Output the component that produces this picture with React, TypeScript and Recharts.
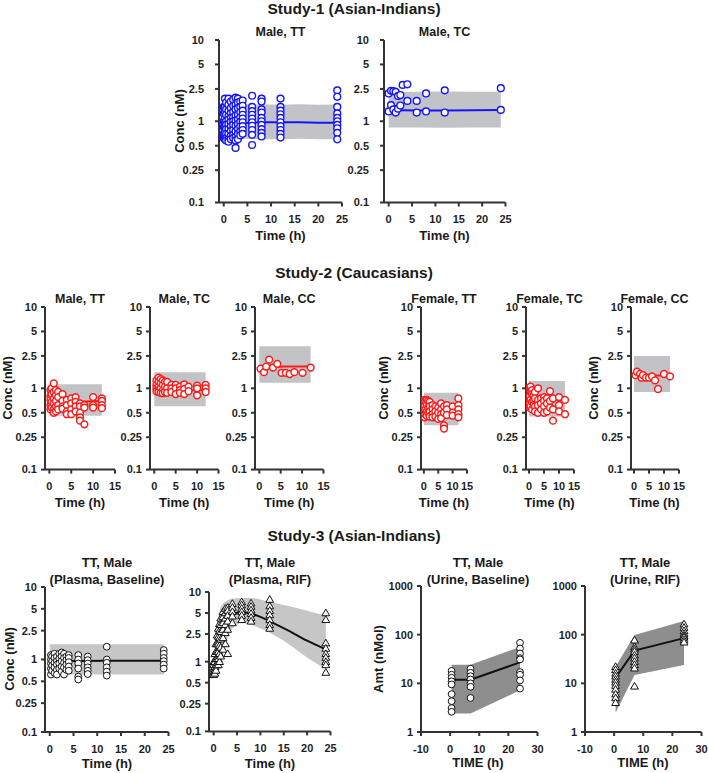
import React from 'react';
import { ComposedChart, Area, Line, Scatter, XAxis, YAxis } from 'recharts';

// [time, lower, median, upper]
type Band = [number, number, number, number][];
// [time, observed values at that time]
type Obs = [number, number[]][];

const CONC_TICKS = [0.1, 0.25, 0.5, 1, 2.5, 5, 10];
const AMT_TICKS = [1, 10, 100, 1000];
const TIME_TICKS_24 = [0, 5, 10, 15, 20, 25];
const TIME_TICKS_12 = [0, 5, 10, 15];
const URINE_TIME_TICKS = [-10, 0, 10, 20, 30];

// ---- Study-1 (Asian-Indians) ----
const s1MaleTTBand: Band = [
  [0, 0.6, 0.96, 1.62], [4, 0.61, 0.95, 1.6], [8, 0.6, 0.97, 1.62],
  [12, 0.6, 0.97, 1.6], [16, 0.61, 0.97, 1.62], [20, 0.6, 0.96, 1.6], [24, 0.6, 0.96, 1.61],
];
const s1MaleTTObs: Obs = [
  [0, [1.5, 1.25, 1.0, 0.85, 0.7, 0.62]],
  [0.25, [1.9, 1.5, 1.3, 1.1, 0.95, 0.85, 0.75, 0.65, 0.6]],
  [0.5, [1.7, 1.4, 1.2, 1.0, 0.9, 0.8, 0.7, 0.62, 0.58]],
  [1, [1.9, 1.6, 1.35, 1.15, 1.05, 0.92, 0.8, 0.7, 0.6, 0.56]],
  [1.5, [1.75, 1.45, 1.25, 1.1, 0.98, 0.86, 0.76, 0.66, 0.6]],
  [2, [1.85, 1.55, 1.3, 1.12, 1.0, 0.9, 0.78, 0.68, 0.62]],
  [2.5, [1.95, 1.6, 1.4, 1.18, 1.02, 0.88, 0.75, 0.64, 0.58, 0.47]],
  [3, [1.9, 1.7, 1.45, 1.2, 1.05, 0.92, 0.8, 0.7, 0.6]],
  [3.5, [1.75, 1.5, 1.3, 1.12, 0.98, 0.86, 0.75, 0.67]],
  [4, [1.8, 1.55, 1.35, 1.2, 1.08, 0.97, 0.87, 0.78, 0.7]],
  [6, [2.06, 1.5, 1.33, 1.2, 1.08, 0.97, 0.88, 0.78, 0.68, 0.51]],
  [8, [1.9, 1.75, 1.4, 1.28, 1.1, 1.0, 0.9, 0.8, 0.72, 0.65]],
  [12, [1.9, 1.5, 1.35, 1.22, 1.1, 0.97, 0.87, 0.78, 0.7, 0.63]],
  [24, [2.4, 2.0, 1.5, 1.25, 1.1, 1.0, 0.9, 0.82, 0.72, 0.6]],
];
const s1MaleTCBand: Band = [
  [0, 0.84, 1.38, 2.3], [6, 0.84, 1.36, 2.3], [12, 0.83, 1.36, 2.32], [18, 0.84, 1.37, 2.3], [24, 0.84, 1.38, 2.3],
];
const s1MaleTCObs: Obs = [
  [0, [2.2, 1.32]], [0.5, [2.37, 1.58]], [1, [2.35, 1.4]], [1.5, [2.3, 1.28]],
  [2, [2.05, 1.43]], [2.5, [2.1, 1.56]], [3, [2.8]], [4, [2.85, 1.78]],
  [6, [1.78, 1.28]], [8, [2.2, 1.32]], [12, [2.4, 1.28]], [24, [2.55, 1.38]],
];

// ---- Study-2 (Caucasians) ----
const s2MaleTTBand: Band = [[0, 0.46, 0.72, 1.12], [4, 0.46, 0.7, 1.12], [8, 0.46, 0.69, 1.12], [12, 0.46, 0.7, 1.12]];
const s2MaleTTObs: Obs = [
  [0.25, [0.95, 0.8, 0.72, 0.62, 0.55]], [0.5, [1.0, 0.85, 0.68, 0.58]],
  [1, [1.15, 0.9, 0.75, 0.65, 0.55, 0.5]], [1.5, [0.95, 0.82, 0.7, 0.6, 0.52]],
  [2, [0.9, 0.78, 0.62, 0.55]], [3, [0.85, 0.7, 0.6, 0.56]], [4, [0.72, 0.62, 0.52, 0.48]],
  [5, [0.75, 0.65, 0.55, 0.48]], [6, [0.78, 0.68, 0.6, 0.52]], [7, [0.65, 0.6, 0.5, 0.44, 0.4]],
  [8, [0.62, 0.58, 0.36]], [10, [0.78, 0.62, 0.58]], [12, [0.75, 0.7, 0.62, 0.57]],
];
const s2MaleTCBand: Band = [[0, 0.6, 0.95, 1.58], [4, 0.6, 0.94, 1.58], [8, 0.6, 0.94, 1.58], [12, 0.6, 0.95, 1.58]];
const s2MaleTCObs: Obs = [
  [0.5, [1.25, 1.1, 1.0, 0.92]], [1, [1.35, 1.2, 1.05, 0.95, 0.9]], [1.5, [1.3, 1.15, 1.0, 0.88]],
  [2, [1.25, 1.1, 0.95, 0.87]], [2.5, [1.2, 1.05, 0.9]], [3, [1.2, 1.0, 0.88]], [4, [1.1, 1.0, 0.9]],
  [5, [1.1, 1.0, 0.85]], [6, [1.05, 0.95, 0.88]], [7, [1.12, 0.98, 0.85]], [8, [1.05, 0.92]],
  [10, [1.08, 1.0, 0.82]], [12, [1.1, 1.0, 0.9]],
];
const s2MaleCCBand: Band = [[0, 1.17, 1.8, 3.3], [6, 1.17, 1.85, 3.3], [12, 1.17, 1.85, 3.3]];
const s2MaleCCObs: Obs = [
  [0.3, [1.74]], [1.1, [1.58]], [1.6, [1.85]], [2.3, [2.25]], [3.2, [1.8]], [4.2, [2.0]],
  [5.2, [1.55]], [6.2, [1.55]], [7.1, [1.5]], [8.2, [1.58]], [10.1, [1.55]], [12, [1.8]],
];
const s2FemaleTTBand: Band = [[0, 0.35, 0.54, 0.88], [6, 0.35, 0.53, 0.88], [12, 0.35, 0.53, 0.88]];
const s2FemaleTTObs: Obs = [
  [0.25, [0.72, 0.6, 0.5, 0.44]], [0.5, [0.7, 0.55, 0.48]], [1, [0.72, 0.62, 0.52, 0.46]],
  [1.5, [0.7, 0.58, 0.5]], [2, [0.68, 0.6, 0.52, 0.45]], [3, [0.62, 0.55, 0.48, 0.44]],
  [4, [0.6, 0.52, 0.45]], [5, [0.58, 0.5, 0.42]], [6, [0.65, 0.55, 0.48, 0.43]],
  [7, [0.6, 0.5, 0.35, 0.32]], [8, [0.62, 0.55, 0.47]], [10, [0.6, 0.5, 0.46]],
  [12, [0.75, 0.62, 0.55, 0.48, 0.44]],
];
const s2FemaleTCBand: Band = [[0, 0.45, 0.72, 1.23], [6, 0.45, 0.72, 1.23], [12, 0.45, 0.73, 1.23]];
const s2FemaleTCObs: Obs = [
  [0.25, [1.02, 0.8, 0.65, 0.58]], [0.5, [1.05, 0.92, 0.72, 0.6]], [1, [0.95, 0.85, 0.68, 0.55]],
  [1.5, [0.82, 0.7, 0.62]], [2, [0.9, 0.75, 0.6, 0.52]], [3, [1.0, 0.72, 0.62, 0.5]],
  [4, [0.75, 0.65, 0.55]], [5, [0.78, 0.7, 0.6, 0.5]], [6, [0.75, 0.65, 0.52]],
  [7, [0.92, 0.7, 0.58]], [8, [0.75, 0.55, 0.4]], [10, [0.78, 0.62, 0.52]], [12, [0.72, 0.48]],
];
const s2FemaleCCBand: Band = [[0, 0.9, 1.42, 2.5], [6, 0.9, 1.44, 2.5], [12, 0.9, 1.44, 2.5]];
const s2FemaleCCObs: Obs = [
  [0.5, [1.45]], [1, [1.6]], [2, [1.5]], [2.5, [1.35]], [3, [1.45]], [4, [1.35]],
  [5, [1.35]], [6, [1.4]], [7, [1.25]], [8, [0.98]], [10, [1.5]], [12, [1.4]],
];

// ---- Study-3 (Asian-Indians) ----
const s3PlasmaBaseBand: Band = [[0, 0.62, 0.96, 1.62], [6, 0.62, 0.95, 1.62], [12, 0.62, 0.96, 1.62], [24, 0.62, 0.96, 1.62]];
const s3PlasmaBaseObs: Obs = [
  [0.25, [1.15, 1.0, 0.88, 0.75, 0.62]], [0.5, [1.1, 0.95, 0.82, 0.7]], [1, [1.2, 1.05, 0.9, 0.78, 0.65]],
  [1.5, [1.1, 0.95, 0.85, 0.72, 0.62]], [2, [1.2, 1.02, 0.88, 0.75]], [2.5, [1.25, 1.1, 0.95, 0.8, 0.68]],
  [3, [1.2, 1.05, 0.9, 0.78, 0.62]], [3.5, [1.1, 0.98, 0.85, 0.72]], [4, [1.15, 1.05, 0.92, 0.8, 0.7]],
  [6, [1.15, 1.0, 0.88, 0.75, 0.58, 0.53]], [8, [1.1, 0.98, 0.88, 0.78, 0.7, 0.63]],
  [12, [1.5, 1.0, 0.9, 0.78, 0.68, 0.6]], [24, [1.35, 1.2, 1.05, 0.95, 0.85, 0.75]],
];
const s3PlasmaRifBand: Band = [
  [0, 0.68, 0.8, 1.0], [0.5, 0.72, 1.05, 2.5], [1, 0.8, 1.6, 4.5], [1.5, 1.0, 2.3, 6.0],
  [2, 1.35, 3.3, 6.8], [2.5, 1.75, 4.2, 7.3], [3, 2.2, 4.7, 7.6], [4, 3.0, 5.0, 8.0],
  [6, 3.6, 5.1, 8.2], [8, 3.4, 4.9, 8.2], [10, 3.0, 4.4, 7.8], [12, 2.6, 3.8, 7.2],
  [16, 1.8, 2.8, 6.3], [20, 1.15, 2.0, 5.4], [24, 0.78, 1.5, 4.6],
];
const s3PlasmaRifObs: Obs = [
  [0, [1.0, 0.9, 0.8, 0.72, 0.65]], [0.25, [1.3, 1.0, 0.85, 0.75, 0.68]],
  [0.5, [1.8, 1.4, 1.1, 0.9, 0.75]], [0.75, [2.4, 1.8, 1.4, 1.1, 0.9]],
  [1, [3.0, 2.3, 1.8, 1.4, 1.1, 0.9]], [1.25, [3.5, 2.8, 2.2, 1.7, 1.3, 1.0]],
  [1.5, [4.2, 3.4, 2.7, 2.1, 1.6, 1.2]], [2, [5.2, 4.4, 3.6, 2.9, 2.2, 1.5]],
  [2.5, [5.8, 5.0, 4.2, 3.4, 2.6, 1.8]], [3, [6.0, 5.4, 4.6, 3.8, 2.9, 1.3]],
  [4, [6.8, 6.0, 5.2, 4.5, 3.6]], [6, [7.2, 6.5, 5.8, 5.2, 4.6, 4.0]],
  [8, [6.9, 6.2, 5.5, 4.9, 4.3, 3.8]], [12, [7.8, 6.3, 5.4, 4.7, 4.0, 3.4, 3.0]],
  [24, [5.0, 4.0, 1.85, 1.55, 1.3, 1.15, 1.0, 0.9, 0.7]],
];
const s3UrineBaseBand: Band = [[0.5, 2.4, 11.9, 24], [7, 2.4, 11.9, 24], [24, 7.2, 27, 56]];
const s3UrineBaseObs: Obs = [
  [0.5, [18, 15, 13, 11, 9.5, 6, 4.3, 3.1, 2.6]],
  [7, [20, 16.5, 14, 12, 10, 8.5, 5]],
  [24, [68, 52, 41, 33, 31, 17, 15, 11.5, 7.8]],
];
const s3UrineRifBand: Band = [[0.5, 2.5, 13, 22], [7, 14.8, 47, 98], [24, 23.7, 85, 190]];
const s3UrineRifObs: Obs = [
  [0.5, [22, 19, 16, 14, 12, 10.5, 9, 7.5, 6, 5, 4]],
  [7, [77, 56, 50, 45, 38, 33, 28, 24, 20.5, 8.7]],
  [24, [165, 140, 120, 105, 95, 88, 78, 70]],
];

const FONT = '"Liberation Sans", Arial, Helvetica, sans-serif';
const AXIS = '#333';
const BLUE = '#1414ff';
const RED = '#ff1a1a';
const BLACK = '#111';
const LIGHT_BAND = '#c1c3c6';
const PLASMA_BAND = '#c6c6c6';
const URINE_BAND = '#8e8e8e';

type Box = { x0: number; y0: number; x1: number; y1: number };

interface PanelProps {
  box: Box;
  xDomain: [number, number];
  xTicks: number[];
  yDomain: [number, number];
  yTicks: number[];
  band: Band;
  obs: Obs;
  color: string;
  bandColor: string;
  marker: 'circle' | 'triangle';
  smooth?: boolean;
  markerWidth?: number;
  yTickGap?: number;
}

function Panel({ box, xDomain, xTicks, yDomain, yTicks, band, obs, color, bandColor, marker, smooth, markerWidth = 1.4, yTickGap = 5 }: PanelProps) {
  const bandRows = band.map(([t, lo, med, hi]) => ({ t, range: [lo, hi], med }));
  const obsRows = obs.flatMap(([t, vs]) => vs.map((v) => ({ t, v })));
  const tick = { fill: '#1e1e1e', fontSize: 11, fontWeight: 700, fontFamily: FONT };
  const curve = smooth ? 'monotone' : 'linear';

  const shape = (p: any) => {
    const { cx, cy } = p;
    if (marker === 'triangle') {
      return (
        <path
          d={`M${cx},${cy - 3.9}L${cx + 3.9},${cy + 2.8}L${cx - 3.9},${cy + 2.8}Z`}
          fill="#fff"
          stroke={color}
          strokeWidth={markerWidth}
        />
      );
    }
    return <circle cx={cx} cy={cy} r={3.4} fill="#fff" stroke={color} strokeWidth={markerWidth} />;
  };

  return (
    <div style={{ position: 'absolute', left: box.x0 - 50, top: box.y0 - 10 }}>
      <ComposedChart
        width={box.x1 - box.x0 + 60}
        height={box.y1 - box.y0 + 40}
        data={bandRows}
        margin={{ top: 10, right: 10, bottom: 0, left: 0 }}
      >
        <XAxis
          dataKey="t"
          type="number"
          domain={xDomain}
          ticks={xTicks}
          interval={0}
          allowDataOverflow
          height={30}
          tick={tick}
          tickSize={4}
          tickMargin={9}
          stroke={AXIS}
          strokeWidth={2}
        />
        <YAxis
          type="number"
          scale="log"
          domain={yDomain}
          ticks={yTicks}
          interval={0}
          allowDataOverflow
          width={50}
          tick={tick}
          tickSize={4}
          tickMargin={yTickGap}
          stroke={AXIS}
          strokeWidth={2}
        />
        <Area dataKey="range" type={curve} stroke="none" fill={bandColor} fillOpacity={1} isAnimationActive={false} />
        <Scatter data={obsRows} dataKey="v" shape={shape} isAnimationActive={false} />
        <Line dataKey="med" type={curve} stroke={color} strokeWidth={2} dot={false} isAnimationActive={false} />
      </ComposedChart>
    </div>
  );
}

function Txt({ x, y, size = 12.5, rot = false, children }: { x: number; y: number; size?: number; rot?: boolean; children: React.ReactNode }) {
  return (
    <div
      style={{
        position: 'absolute',
        left: x,
        top: y,
        transform: `translate(-50%, -50%)${rot ? ' rotate(-90deg)' : ''}`,
        fontFamily: FONT,
        fontWeight: 700,
        fontSize: size,
        lineHeight: 1,
        whiteSpace: 'nowrap',
        color: '#1a1a1a',
      }}
    >
      {children}
    </div>
  );
}

const conc = { yDomain: [0.1, 10] as [number, number], yTicks: CONC_TICKS };
const t24 = { xDomain: [-1, 25] as [number, number], xTicks: TIME_TICKS_24 };
const t12 = { xDomain: [-1, 15] as [number, number], xTicks: TIME_TICKS_12 };
const urine = { xDomain: [-10, 30] as [number, number], xTicks: URINE_TIME_TICKS, yDomain: [1, 1000] as [number, number], yTicks: AMT_TICKS };

const S2_TOP = 306.7;
const S2_BOT = 469.3;

export default function App() {
  const s2 = [
    { title: 'Male, TT', box: { x0: 45, x1: 115 }, band: s2MaleTTBand, obs: s2MaleTTObs, ylab: true },
    { title: 'Male, TC', box: { x0: 150, x1: 218.5 }, band: s2MaleTCBand, obs: s2MaleTCObs, ylab: false },
    { title: 'Male, CC', box: { x0: 255, x1: 323.5 }, band: s2MaleCCBand, obs: s2MaleCCObs, ylab: false },
    { title: 'Female, TT', box: { x0: 421, x1: 467 }, band: s2FemaleTTBand, obs: s2FemaleTTObs, ylab: true },
    { title: 'Female, TC', box: { x0: 525.5, x1: 573.5 }, band: s2FemaleTCBand, obs: s2FemaleTCObs, ylab: false },
    { title: 'Female, CC', box: { x0: 630.5, x1: 678.5 }, band: s2FemaleCCBand, obs: s2FemaleCCObs, ylab: true },
  ];

  return (
    <div style={{ position: 'absolute', left: 0, top: 0, width: 709, height: 773, background: '#fff', overflow: 'hidden' }}>
      {/* Study-1 */}
      <Txt x={354} y={9} size={15.5}>Study-1 (Asian-Indians)</Txt>
      <Panel box={{ x0: 219, y0: 40, x1: 342, y1: 202.5 }} {...t24} {...conc} band={s1MaleTTBand} obs={s1MaleTTObs} color={BLUE} bandColor={LIGHT_BAND} marker="circle" yTickGap={11} />
      <Panel box={{ x0: 384, y0: 40, x1: 505.5, y1: 202.5 }} {...t24} {...conc} band={s1MaleTCBand} obs={s1MaleTCObs} color={BLUE} bandColor={LIGHT_BAND} marker="circle" yTickGap={11} />
      <Txt x={280.5} y={32}>Male, TT</Txt>
      <Txt x={444.5} y={32}>Male, TC</Txt>
      <Txt x={179} y={121} size={13} rot>Conc (nM)</Txt>
      <Txt x={280.5} y={235} size={13}>Time (h)</Txt>
      <Txt x={444.5} y={235} size={13}>Time (h)</Txt>

      {/* Study-2 */}
      <Txt x={354} y={273} size={15.5}>Study-2 (Caucasians)</Txt>
      {s2.map((p) => {
        const cx = (p.box.x0 + p.box.x1) / 2;
        return (
          <React.Fragment key={p.title}>
            <Panel box={{ x0: p.box.x0, y0: S2_TOP, x1: p.box.x1, y1: S2_BOT }} {...t12} {...conc} band={p.band} obs={p.obs} color={RED} bandColor={LIGHT_BAND} marker="circle" markerWidth={1.5} yTickGap={4} />
            <Txt x={cx} y={299}>{p.title}</Txt>
            <Txt x={cx} y={501.5} size={13}>Time (h)</Txt>
            {p.ylab && <Txt x={p.box.x0 - 38} y={388} size={13} rot>Conc (nM)</Txt>}
          </React.Fragment>
        );
      })}

      {/* Study-3 */}
      <Txt x={354} y={536} size={15.5}>Study-3 (Asian-Indians)</Txt>
      <Panel box={{ x0: 45, y0: 586.7, x1: 168.5, y1: 731.7 }} {...t24} {...conc} band={s3PlasmaBaseBand} obs={s3PlasmaBaseObs} color={BLACK} bandColor={PLASMA_BAND} marker="circle" markerWidth={1} yTickGap={4} />
      <Panel box={{ x0: 208.5, y0: 592.3, x1: 330, y1: 731.7 }} {...t24} {...conc} band={s3PlasmaRifBand} obs={s3PlasmaRifObs} color={BLACK} bandColor={PLASMA_BAND} marker="triangle" markerWidth={1} yTickGap={4} smooth />
      <Panel box={{ x0: 420.5, y0: 586, x1: 537, y1: 732 }} {...urine} band={s3UrineBaseBand} obs={s3UrineBaseObs} color={BLACK} bandColor={URINE_BAND} marker="circle" markerWidth={1} yTickGap={4} />
      <Panel box={{ x0: 585, y0: 586, x1: 701.5, y1: 732 }} {...urine} band={s3UrineRifBand} obs={s3UrineRifObs} color={BLACK} bandColor={URINE_BAND} marker="triangle" markerWidth={1} yTickGap={4} />

      <Txt x={107} y={561.5} size={13}>TT, Male</Txt>
      <Txt x={107} y={579} size={13}>(Plasma, Baseline)</Txt>
      <Txt x={270} y={561.5} size={13}>TT, Male</Txt>
      <Txt x={270} y={579} size={13}>(Plasma, RIF)</Txt>
      <Txt x={478} y={561.5} size={13}>TT, Male</Txt>
      <Txt x={478} y={579} size={13}>(Urine, Baseline)</Txt>
      <Txt x={645} y={561.5} size={13}>TT, Male</Txt>
      <Txt x={645} y={579} size={13}>(Urine, RIF)</Txt>
      <Txt x={8.5} y={659} size={13} rot>Conc (nM)</Txt>
      <Txt x={378} y={659} size={13} rot>Amt (nMol)</Txt>
      <Txt x={107} y={763} size={13}>Time (h)</Txt>
      <Txt x={270} y={763} size={13}>Time (h)</Txt>
      <Txt x={478} y={762} size={13}>TIME (h)</Txt>
      <Txt x={643} y={762} size={13}>TIME (h)</Txt>
    </div>
  );
}
